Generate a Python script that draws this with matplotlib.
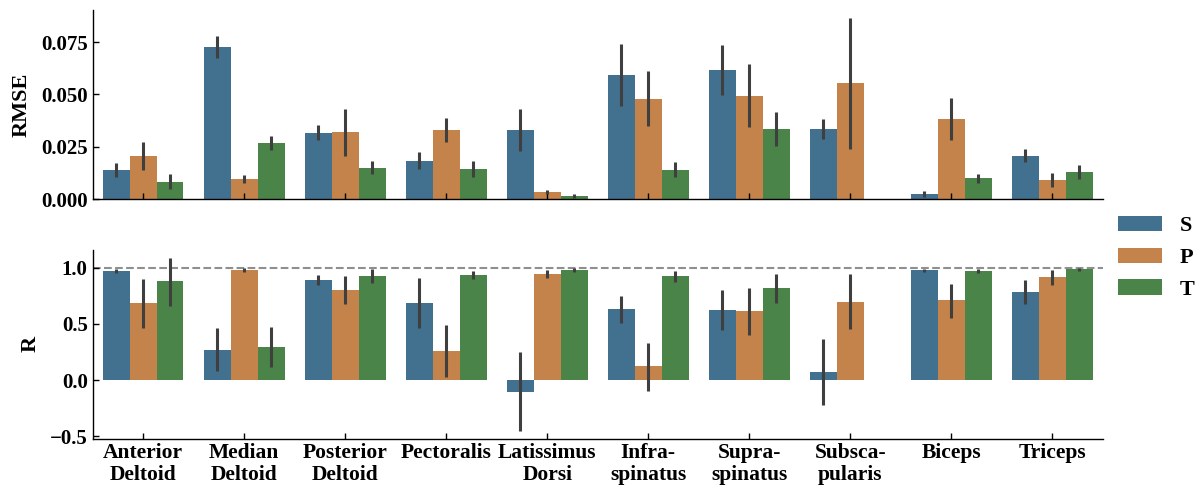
import numpy as np
import matplotlib
matplotlib.use("Agg")
import matplotlib.pyplot as plt
from matplotlib.patches import Patch

muscles = ["Anterior\nDeltoid", "Median\nDeltoid", "Posterior\nDeltoid", "Pectoralis",
           "Latissimus\nDorsi", "Infra-\nspinatus", "Supra-\nspinatus", "Subsca-\npularis",
           "Biceps", "Triceps"]
conditions = ["S", "P", "T"]
colors = ["#42708f", "#c4834a", "#4a8448"]

# RMSE mean per muscle and confidence interval bounds (NaN = no data)
rmse_S = [0.0139, 0.0726, 0.0315, 0.0182, 0.0330, 0.0592, 0.0616, 0.0334, 0.0024, 0.0205]
rmse_P = [0.0207, 0.0096, 0.0320, 0.0330, 0.0033, 0.0478, 0.0492, 0.0554, 0.0382, 0.0091]
rmse_T = [0.0081, 0.0268, 0.0148, 0.0143, 0.0014, 0.0139, 0.0334, np.nan, 0.0100, 0.0129]
rmse_S_lo = [0.0107, 0.0672, 0.0280, 0.0142, 0.0231, 0.0444, 0.0497, 0.0285, 0.0011, 0.0175]
rmse_S_hi = [0.0171, 0.0780, 0.0352, 0.0223, 0.0431, 0.0741, 0.0734, 0.0382, 0.0038, 0.0237]
rmse_P_lo = [0.0139, 0.0075, 0.0207, 0.0271, 0.0022, 0.0350, 0.0346, 0.0240, 0.0282, 0.0056]
rmse_P_hi = [0.0271, 0.0113, 0.0430, 0.0387, 0.0043, 0.0610, 0.0644, 0.0865, 0.0481, 0.0124]
rmse_T_lo = [0.0046, 0.0233, 0.0118, 0.0107, 0.0005, 0.0105, 0.0252, np.nan, 0.0078, 0.0094]
rmse_T_hi = [0.0121, 0.0302, 0.0180, 0.0180, 0.0022, 0.0175, 0.0416, np.nan, 0.0119, 0.0161]

# Correlation coefficient mean per muscle and confidence interval bounds
r_S = [0.970, 0.269, 0.891, 0.686, -0.104, 0.633, 0.624, 0.074, 0.979, 0.784]
r_P = [0.686, 0.982, 0.802, 0.260, 0.944, 0.121, 0.615, 0.695, 0.713, 0.917]
r_T = [0.882, 0.296, 0.926, 0.935, 0.979, 0.926, 0.820, np.nan, 0.970, 0.988]
r_S_lo = [0.953, 0.077, 0.843, 0.459, -0.456, 0.506, 0.447, -0.222, 0.962, 0.675]
r_S_hi = [0.988, 0.462, 0.935, 0.905, 0.249, 0.749, 0.802, 0.367, 0.991, 0.888]
r_P_lo = [0.467, 0.964, 0.680, 0.030, 0.908, -0.095, 0.405, 0.450, 0.556, 0.846]
r_P_hi = [0.899, 0.997, 0.923, 0.491, 0.979, 0.334, 0.817, 0.944, 0.858, 0.982]
r_T_lo = [0.663, 0.112, 0.867, 0.896, 0.959, 0.876, 0.689, np.nan, 0.953, 0.973]
r_T_hi = [1.089, 0.470, 0.988, 0.970, 0.997, 0.973, 0.944, np.nan, 0.991, 0.997]

plt.rcParams["font.family"] = ["Liberation Serif", "DejaVu Serif"]
plt.rcParams["font.weight"] = "bold"
plt.rcParams["axes.labelweight"] = "bold"

fig = plt.figure(figsize=(12.02, 4.86), dpi=100)
ax1 = fig.add_axes([0.0770, 0.5905, 0.8405, 0.3889])
ax2 = fig.add_axes([0.0770, 0.0977, 0.8405, 0.3879])

x = np.arange(len(muscles))
width = 0.8 / 3
offsets = [-width, 0.0, width]


def draw(ax, means, lows, highs):
    for off, m, lo, hi, c in zip(offsets, means, lows, highs, colors):
        m = np.asarray(m, float)
        lo = np.asarray(lo, float)
        hi = np.asarray(hi, float)
        ax.bar(x + off, m, width=width, color=c, edgecolor="none")
        ax.vlines(x + off, lo, hi, color="#3f3f3f", lw=2.2, zorder=3)


draw(ax1, [rmse_S, rmse_P, rmse_T], [rmse_S_lo, rmse_P_lo, rmse_T_lo],
     [rmse_S_hi, rmse_P_hi, rmse_T_hi])
draw(ax2, [r_S, r_P, r_T], [r_S_lo, r_P_lo, r_T_lo], [r_S_hi, r_P_hi, r_T_hi])
ax2.axhline(1.0, color="#8f8f8f", ls="--", lw=1.5, zorder=0)

ax1.set_ylim(0, 0.0903)
ax1.set_yticks([0.0, 0.025, 0.05, 0.075])
ax1.set_yticklabels(["0.000", "0.025", "0.050", "0.075"])
ax2.set_ylim(-0.52, 1.157)
ax2.set_yticks([-0.5, 0.0, 0.5, 1.0])
ax2.set_yticklabels(["\u22120.5", "0.0", "0.5", "1.0"])

for ax in (ax1, ax2):
    ax.set_xlim(-0.5, len(muscles) - 0.5)
    ax.set_xticks(x)
    ax.spines["top"].set_visible(False)
    ax.spines["right"].set_visible(False)
    for s in ("left", "bottom"):
        ax.spines[s].set_linewidth(1.0)
    ax.tick_params(direction="in", length=4.5, width=1.0)
    ax.tick_params(axis="y", labelsize=15)

ax1.set_xticklabels([])
ax2.set_xticklabels(muscles, fontsize=15.5, fontweight="bold", linespacing=1.1)
ax1.set_ylabel("RMSE", fontsize=16, fontweight="bold", labelpad=6.5)
ax2.set_ylabel("R", fontsize=16, fontweight="bold", labelpad=6.5)

handles = [Patch(facecolor=c, edgecolor="none") for c in colors]
fig.legend(handles, conditions, loc="center left", bbox_to_anchor=(0.9225, 0.4695),
           frameon=False, borderaxespad=0, labelspacing=0.5,
           prop={"weight": "bold", "size": 16})

fig.savefig("out.png", dpi=100)
